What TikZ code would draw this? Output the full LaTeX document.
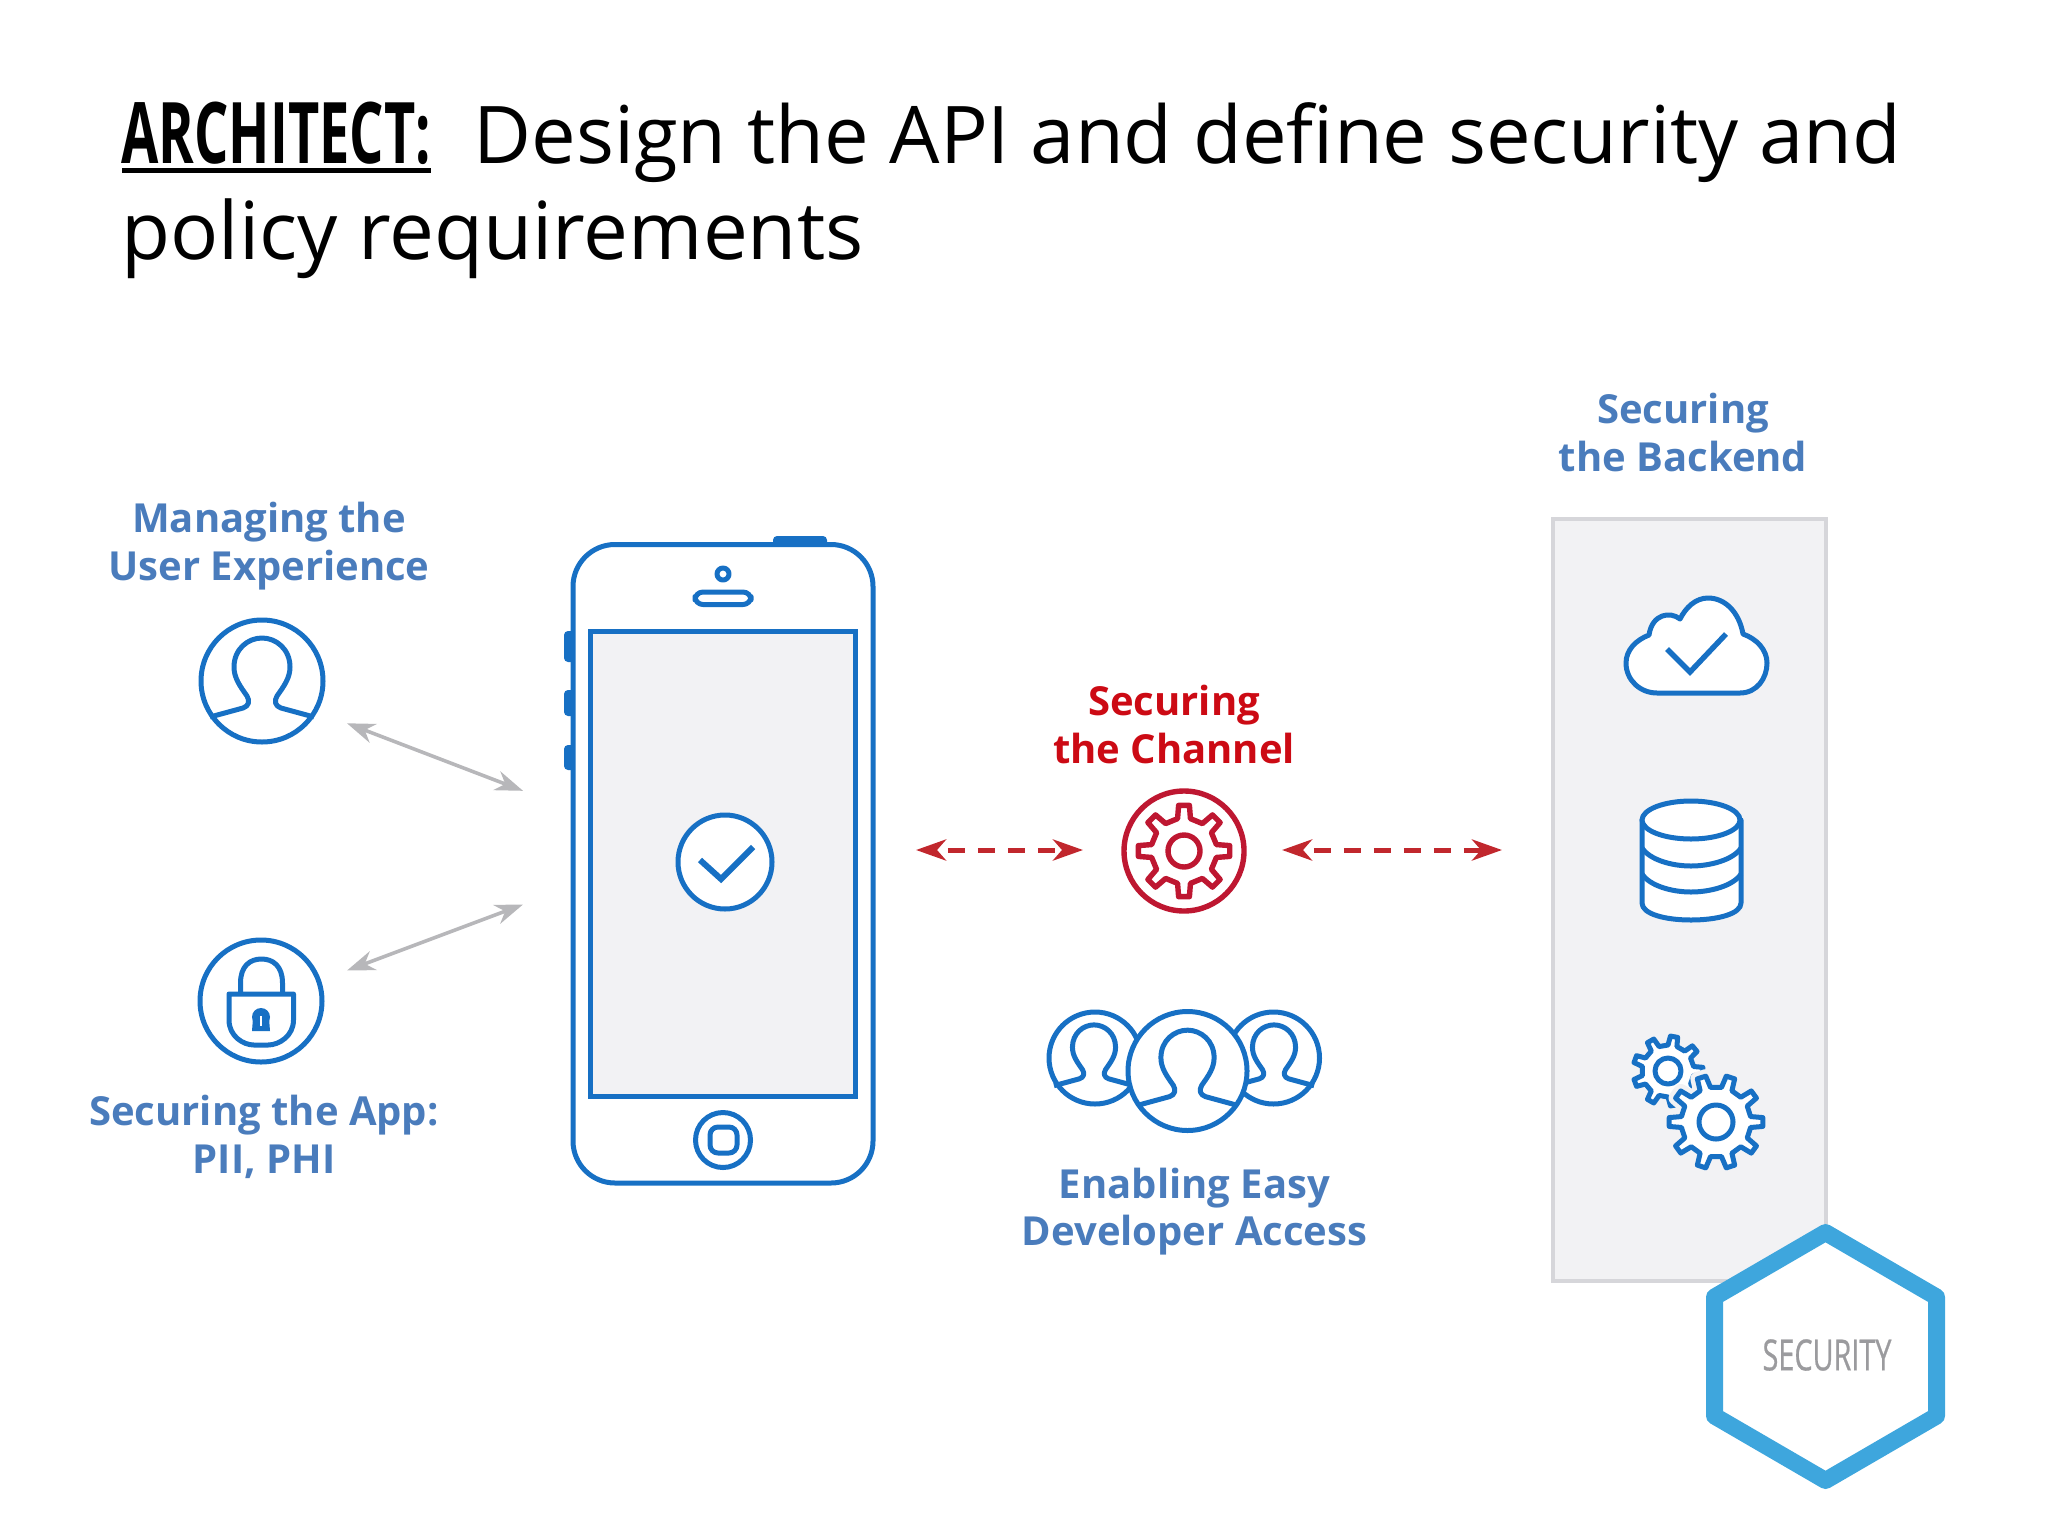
\documentclass[tikz,border=0pt]{standalone}
\usepackage{fontspec}
\setmainfont{Open Sans}
\newfontfamily\archfont[FakeStretch=0.636]{Open Sans}
\newfontfamily\secfont[FakeStretch=0.67,FakeBold=0.5]{Open Sans}
\usetikzlibrary{arrows.meta,calc}
\definecolor{iconblue}{HTML}{1770C4}
\definecolor{textblue}{HTML}{4A7CBC}
\definecolor{textred}{HTML}{CC0A14}
\definecolor{gearred}{HTML}{BE1731}
\definecolor{arrowred}{HTML}{C1272D}
\definecolor{arrowgrey}{HTML}{B7B7BA}
\definecolor{panelfill}{HTML}{F2F2F4}
\definecolor{panelline}{HTML}{D6D6DA}
\definecolor{hexblue}{HTML}{3EA6DD}
\definecolor{hexgrey}{HTML}{9B9B9E}
\tikzset{
  icon/.style={draw=iconblue,line width=2.5pt,line join=round},
  iconw/.style={icon,fill=white},
  redicon/.style={draw=gearred,line width=2.7pt,line join=round},
  lbl/.style={font=\fontsize{20}{23.9}\selectfont\bfseries,align=center,inner sep=0pt,text=textblue},
  lblred/.style={lbl,text=textred},
  titletext/.style={font=\fontsize{40}{48}\selectfont,anchor=base west,inner sep=0pt,text=black},
  greyarrow/.style={draw=arrowgrey,line width=1.8pt,{Stealth[length=14pt,width=10pt,inset=4.5pt]}-{Stealth[length=14pt,width=10pt,inset=4.5pt]}},
  redarrow/.style={draw=arrowred,line width=2.5pt,dash pattern=on 8.5pt off 6.5pt,dash phase=8.5pt,{Stealth[length=15pt,width=10.5pt,inset=4.5pt]}-{Stealth[length=15pt,width=10.5pt,inset=4.5pt]}}
}
\newcommand{\personshape}[4]{% cx cy scale style
  \begin{scope}[shift={(#1,#2)},scale=#3]
  \draw[#4] (-52,36) -- (-19,27) .. controls (-13,25) and (-12,20) .. (-15,15)
    .. controls (-22,5) and (-28,-3) .. (-28,-14)
    .. controls (-28,-32) and (-14,-43) .. (0,-43)
    .. controls (14,-43) and (28,-32) .. (28,-14)
    .. controls (28,-3) and (22,5) .. (15,15)
    .. controls (12,20) and (13,25) .. (19,27) -- (52,36);
  \end{scope}}
\newcommand{\gearshape}[6]{% cx cy Rout Rroot n style
  \begin{scope}[shift={(#1,#2)}]
  \draw[#6] (0.25*360/#5:#4)
    \foreach \k [evaluate=\k as \a using \k*360/#5] in {1,...,#5} {
      -- (\a-0.25*360/#5:#4) -- (\a-0.15*360/#5:#3) -- (\a+0.15*360/#5:#3) -- (\a+0.25*360/#5:#4)
    } -- cycle;
  \end{scope}}
\begin{document}
\begin{tikzpicture}[x=0.5pt,y=-0.5pt]
\useasboundingbox (0,0) rectangle (2048,1536);
% title
\node[titletext,font=\fontsize{42.5}{50}\archfont\bfseries] (arch) at (121,163) {ARCHITECT:};
\fill[black] ($(arch.base west)+(1,4.5)$) rectangle ($(arch.base east)+(0,9.5)$);
\node[titletext,font=\fontsize{39.8}{48}\selectfont] (title1) at (473,163) {Design the API and define security and};
\node[titletext] (title2) at (121,259) {policy requirements};
% left labels and icons
\node[lbl] (lblux) at (269,546.5) {Managing the\\User Experience};
\draw[iconw] (262,681) circle (61);
\personshape{262}{681}{1}{icon}
\draw[iconw] (261,1001) circle (61);
\draw[icon] (240.5,994) -- (240.5,983) .. controls (240.5,966) and (250,959) .. (261.5,959) .. controls (273,959) and (282.5,966) .. (282.5,983) -- (282.5,994);
\draw[icon] (229,994) -- (293.5,994) -- (293.5,1020) .. controls (293.5,1036) and (279,1045) .. (268,1045) -- (254,1045) .. controls (243,1045) and (229,1036) .. (229,1020) -- cycle;
\fill[iconblue] (261,1017) circle (9);
\fill[iconblue] (253,1018) -- (269,1018) -- (270,1031) -- (252,1031) -- cycle;
\draw[white,line width=0.7pt] (261,1016) -- (261,1026);
\node[lbl] (lblapp) at (264,1136.5) {Securing the App:\\PII, PHI};
% grey arrows
\coordinate (ga1) at (347,723.3); \coordinate (gb1) at (523,790.8);
\coordinate (ga2) at (347,970.5); \coordinate (gb2) at (523,904.5);
\draw[greyarrow] (ga1) -- (gb1);
\draw[greyarrow] (ga2) -- (gb2);
% phone
\fill[iconblue,rounded corners=2pt] (773,536) rectangle (827,550);
\fill[iconblue,rounded corners=2pt] (564,631) rectangle (575,662);
\fill[iconblue,rounded corners=2pt] (564,690) rectangle (575,716);
\fill[iconblue,rounded corners=2pt] (564,745) rectangle (575,770);
\draw[iconw,rounded corners=21pt] (573,544.5) rectangle (873,1183);
\draw[icon,fill=panelfill,line join=miter] (590.5,631) rectangle (855,1096.5);
\draw[icon] (723,574) circle (6);
\draw[icon,rounded corners=4pt] (695,592) rectangle (751,604.5);
\draw[iconw] (725,862) circle (47);
\draw[icon,line width=3pt,line join=miter] (700,860) -- (721,879) -- (753,847);
\draw[icon] (723,1140) circle (27.5);
\draw[icon,rounded corners=4pt] (710,1127) rectangle (737,1153);
% channel
\node[lblred] (lblchan) at (1174,724.5) {Securing\\the Channel};
\draw[redicon] (1184,851) circle (60);
\gearshape{1184}{851}{46}{33}{8}{redicon}
\draw[redicon] (1184,851) circle (16);
\coordinate (ra1) at (916,850); \coordinate (rb1) at (1083,850);
\coordinate (ra2) at (1282,850); \coordinate (rb2) at (1502,850);
\draw[redarrow] (ra1) -- (rb1);
\draw[redarrow] (ra2) -- (rb2);
% team
\draw[iconw] (1095,1058) circle (46);
\personshape{1094}{1058}{0.77}{icon}
\draw[iconw] (1273.5,1058) circle (46);
\personshape{1274}{1058}{0.77}{icon}
\draw[iconw] (1187.5,1071) circle (59.5);
\personshape{1187.5}{1071}{0.95}{icon}
\node[lbl] (lbldev) at (1194.5,1211.5) {Enabling Easy\\Developer Access};
% backend
\node[lbl] (lblback) at (1683,432.5) {Securing\\the Backend};
\draw[draw=panelline,fill=panelfill,line width=2pt] (1553,519) rectangle (1826,1280.5);
\draw[iconw] (1657,693) -- (1740,693) .. controls (1757,693) and (1767,678) .. (1767,663)
  .. controls (1767,650) and (1757,639) .. (1743,634)
  .. controls (1739,612) and (1725,598) .. (1708,598)
  .. controls (1696,598) and (1686,607) .. (1680,619)
  .. controls (1670,611) and (1652,614) .. (1649,635)
  .. controls (1636,640) and (1626,650) .. (1626,663)
  .. controls (1626,680) and (1640,693) .. (1657,693) -- cycle;
\draw[icon,line width=2.7pt,line join=miter] (1667,649) -- (1690,672) -- (1726,634);
\draw[iconw] (1642,820) -- (1642,903) .. controls (1642,914) and (1665,920) .. (1691,920) .. controls (1717,920) and (1741,914) .. (1741,903) -- (1741,820) -- cycle;
\draw[iconw] (1691,820) ellipse (49 and 19);
\draw[icon] (1642,848) .. controls (1650,860) and (1672,866) .. (1691,866) .. controls (1710,866) and (1733,860) .. (1741,848);
\draw[icon] (1642,874) .. controls (1650,886) and (1672,892) .. (1691,892) .. controls (1710,892) and (1733,886) .. (1741,874);
\gearshape{1668}{1071}{35}{26}{9}{icon,fill=white}
\draw[icon] (1668,1071) circle (13);
\gearshape{1716}{1122}{47}{35}{10}{draw=panelfill,line width=7pt,line join=round}
\gearshape{1716}{1122}{47}{35}{10}{iconw}
\draw[icon] (1716,1122) circle (17);
% hexagon
\draw[draw=hexblue,fill=white,line width=8.5pt,line join=round] (1825.5,1232.5) -- (1936.5,1297) -- (1936.5,1416) -- (1825.5,1480.5) -- (1714.5,1416) -- (1714.5,1297) -- cycle;
\node[inner sep=0pt,text=hexgrey,font=\fontsize{21.5}{26}\secfont] (sec) at (1827,1355) {SECURITY};
\end{tikzpicture}
\end{document}
